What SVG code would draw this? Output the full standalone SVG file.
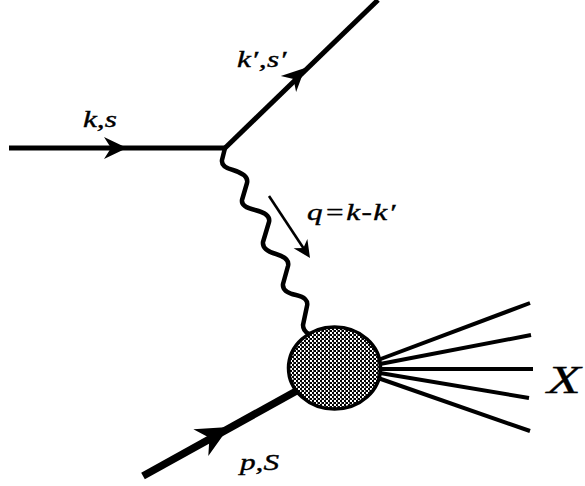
<svg xmlns="http://www.w3.org/2000/svg" width="585" height="486" viewBox="0 0 585 486">
<style>
.line{fill:none;stroke:#000;stroke-linecap:butt;stroke-linejoin:round}
.lbl{font-family:"Liberation Serif","Times New Roman",serif;font-style:italic;fill:#000;stroke:#000;stroke-width:0.4;font-size:24px}
</style>
<defs>
<path id="ah" d="M0,0 L-23,-11 L-16,0 L-23,11 Z" fill="#000"/>
<pattern id="hatch" width="4" height="4" patternUnits="userSpaceOnUse">
<rect width="4" height="4" fill="#fff"/>
<rect x="0" y="0" width="2" height="2" fill="#000"/>
<rect x="2" y="2" width="2" height="2" fill="#000"/>
<rect x="1" y="0" width="1" height="4" fill="#000" opacity="0.6"/>
</pattern>
</defs>
<rect width="585" height="486" fill="#fff"/>
<g id="connectors">
<line class="line" x1="9" y1="148" x2="226" y2="148" stroke-width="5"/>
<use href="#ah" transform="translate(127,148)"/>
<line class="line" x1="224" y1="149" x2="378" y2="0" stroke-width="5"/>
<use href="#ah" transform="translate(305,68) rotate(-44)"/>
<path class="line" stroke-width="4.5" d="M225,148 L222,160 Q221,167 233,170 Q249,175 247,183 L242,200 Q241,207 255,210 Q271,214 269,222 L263,242 Q262,250 276,254 Q290,258 288,266 L283,284 Q282,292 296,295 Q309,298 307,306 L303,325 Q303,331 309,334"/>
<line class="line" x1="269" y1="196" x2="306" y2="252" stroke-width="2.6"/>
<use href="#ah" transform="translate(310,258) rotate(56.5) scale(0.75)"/>
<line class="line" x1="143" y1="476" x2="300" y2="389" stroke-width="7.5"/>
<use href="#ah" transform="translate(229,427) rotate(-29) scale(1.4)"/>
<g stroke-width="4" class="line">
<line x1="378" y1="360" x2="530" y2="303"/>
<line x1="380" y1="364" x2="531" y2="335"/>
<line x1="380" y1="369" x2="533" y2="369"/>
<line x1="380" y1="373" x2="529" y2="398"/>
<line x1="378" y1="378" x2="530" y2="431"/>
</g>
</g>
<g id="blob">
<ellipse cx="334.5" cy="368" rx="46" ry="41" fill="url(#hatch)" stroke="#000" stroke-width="3.5"/>
</g>
<g id="labels">
<text class="lbl" transform="translate(83,127) scale(1.3,1)">k,s</text>
<text class="lbl" transform="translate(237,67) scale(1.3,1)" textLength="38" lengthAdjust="spacing">k′,s′</text>
<text class="lbl" transform="translate(307,220) scale(1.3,1)" textLength="68" lengthAdjust="spacing">q=k-k′</text>
<text class="lbl" transform="translate(240,470) scale(1.3,1)">p,S</text>
<text class="lbl" transform="translate(547,393) scale(1.35,1)" style="font-size:41px;stroke-width:0.3">X</text>
</g>
</svg>
